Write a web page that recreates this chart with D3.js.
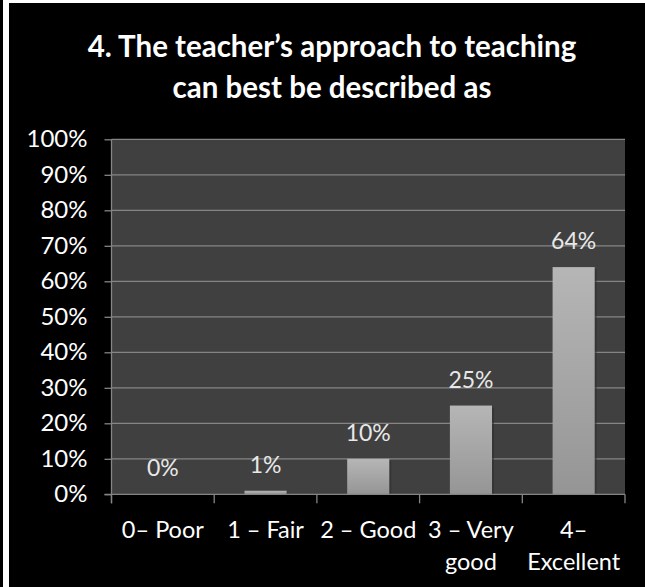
<!DOCTYPE html>
<html lang="en">
<head>
    <meta charset="utf-8">
    <script src="https://d3js.org/d3.v7.min.js"></script>
    <style>
        body { margin: 0; background: #000; }
        text { font-family: Lato, "Open Sans", sans-serif; }
    </style>
</head>
<body>
    <div id="graph"></div>
    <script>
        // data
        var titleLines = ["4. The teacher\u2019s approach to teaching", "can best be described as"];
        var categories = ["0\u2013 Poor", "1 \u2013 Fair", "2 \u2013 Good", "3 \u2013 Very\ngood", "4\u2013\nExcellent"];
        var values = [0, 1, 10, 25, 64];
        var yTicks = [0, 10, 20, 30, 40, 50, 60, 70, 80, 90, 100];

        var W = 645, H = 587;
        var plot = { left: 111.5, right: 625, top: 139.3, bottom: 494.3 };

        var svg = d3.select("#graph").append("svg")
            .attr("width", W)
            .attr("height", H);

        // page frame: black ground, white strip on the left and along the top
        svg.append("rect").attr("width", W).attr("height", H).attr("fill", "#000");
        svg.append("rect").attr("x", 3).attr("y", 0).attr("width", 6).attr("height", H).attr("fill", "#fff");
        svg.append("rect").attr("x", 9).attr("y", 0).attr("width", W - 9).attr("height", 3).attr("fill", "#fff");

        var data = categories.map((c, i) => ({ cat: c, value: values[i] }));

        var x = d3.scaleBand()
            .domain(categories)
            .range([plot.left, plot.right])
            .padding(0);

        var y = d3.scaleLinear()
            .domain([0, 100])
            .range([plot.bottom, plot.top]);

        // title
        svg.append("g").selectAll("text")
            .data(titleLines).enter().append("text")
            .attr("x", 332)
            .attr("y", (d, i) => 57 + i * 41)
            .attr("text-anchor", "middle")
            .attr("fill", "#fff")
            .style("font-size", "29.5px")
            .style("font-weight", "700")
            .text(d => d);

        // plot background
        svg.append("rect")
            .attr("x", plot.left).attr("y", plot.top)
            .attr("width", plot.right - plot.left)
            .attr("height", plot.bottom - plot.top)
            .attr("fill", "#404040");

        // gridlines
        svg.append("g")
            .selectAll("line")
            .data(yTicks.slice(1)).enter().append("line")
            .attr("x1", plot.left).attr("x2", plot.right)
            .attr("y1", d => y(d)).attr("y2", d => y(d))
            .attr("stroke", "#858585")
            .attr("stroke-width", 1.3);

        // bar gradient
        var grad = svg.append("defs").append("linearGradient")
            .attr("id", "barFill")
            .attr("x1", 0).attr("y1", 0).attr("x2", 0).attr("y2", 1);
        grad.append("stop").attr("offset", "0%").attr("stop-color", "#b6b6b6");
        grad.append("stop").attr("offset", "100%").attr("stop-color", "#959595");

        var barW = x.bandwidth() * 0.41;

        // shadow to the right of each bar
        svg.append("g")
            .selectAll("rect")
            .data(data.filter(d => d.value > 0)).enter().append("rect")
            .attr("x", d => x(d.cat) + (x.bandwidth() - barW) / 2 + 2)
            .attr("y", d => y(d.value) + 2)
            .attr("width", barW)
            .attr("height", d => y(0) - y(d.value) - 2)
            .attr("fill", "#2e2e2e")
            .attr("opacity", 0.6);

        svg.append("g")
            .selectAll("rect")
            .data(data).enter().append("rect")
            .attr("x", d => x(d.cat) + (x.bandwidth() - barW) / 2)
            .attr("y", d => y(d.value))
            .attr("width", barW)
            .attr("height", d => y(0) - y(d.value))
            .attr("fill", "url(#barFill)");

        // value labels
        svg.append("g")
            .selectAll("text")
            .data(data).enter().append("text")
            .attr("x", d => x(d.cat) + x.bandwidth() / 2)
            .attr("y", d => y(d.value) - 18)
            .attr("text-anchor", "middle")
            .attr("fill", "#e8e8e8")
            .style("font-size", "23px")
            .text(d => d.value + "%");

        // y axis
        var yAxis = svg.append("g")
            .attr("transform", "translate(" + plot.left + ",0)")
            .call(d3.axisLeft(y).tickValues(yTicks).tickSize(7).tickPadding(17).tickFormat(d => d + "%"));
        yAxis.selectAll("line, path").attr("stroke", "#858585").attr("stroke-width", 1.3);
        yAxis.select(".domain").attr("d", "M0," + plot.top + "V" + (plot.bottom + 9));
        yAxis.selectAll("text")
            .attr("fill", "#fff")
            .style("font-size", "24px")
            .style("font-family", "Lato, 'Open Sans', sans-serif");

        // x axis line with ticks at the category boundaries
        var xg = svg.append("g");
        xg.append("line")
            .attr("x1", plot.left - 7).attr("x2", plot.right)
            .attr("y1", plot.bottom).attr("y2", plot.bottom)
            .attr("stroke", "#858585").attr("stroke-width", 1.3);
        xg.selectAll("line.tick")
            .data(categories.map(c => x(c)).concat([plot.right])).enter().append("line")
            .attr("class", "tick")
            .attr("x1", d => d).attr("x2", d => d)
            .attr("y1", plot.bottom).attr("y2", plot.bottom + 9)
            .attr("stroke", "#858585").attr("stroke-width", 1.3);

        // category labels, broken on \n
        var lab = xg.selectAll("text")
            .data(categories).enter().append("text")
            .attr("text-anchor", "middle")
            .attr("fill", "#fff")
            .style("font-size", "23.5px");
        lab.each(function(c) {
            var t = d3.select(this);
            c.split("\n").forEach((line, i) => {
                t.append("tspan")
                    .attr("x", x(c) + x.bandwidth() / 2)
                    .attr("y", 538 + i * 31.5)
                    .text(line);
            });
        });
    </script>
</body>
</html>
